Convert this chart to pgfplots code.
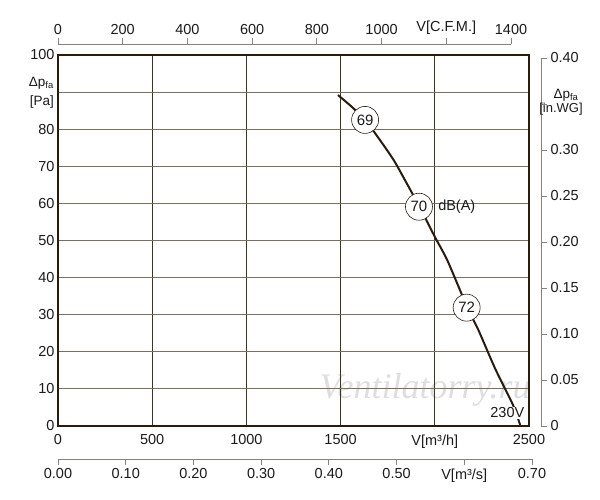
\documentclass[border=0pt]{standalone}
\usepackage{pgfplots}
\pgfplotsset{compat=1.18}
\usepackage{fontspec}
\setmainfont{Liberation Sans}
\newfontfamily\wmfont{Liberation Serif}
\definecolor{frame}{HTML}{2A1B0E}
\definecolor{vgrid}{HTML}{3E3222}
\definecolor{hgrid}{HTML}{7A7060}
\definecolor{sec}{HTML}{8A8278}
\definecolor{txt}{HTML}{1A1A1A}
\newcommand{\tf}{\fontsize{14.5bp}{17bp}\selectfont}
\begin{document}
\begin{tikzpicture}
\useasboundingbox (0,0) rectangle (600bp,500bp);
\node[inner sep=0pt, text=black!13, font=\wmfont\itshape\fontsize{36bp}{36bp}\selectfont] at (425bp,110bp) {Ventilatorry.ru};

\begin{axis}[
  at={(58bp,74bp)}, anchor=south west, scale only axis,
  width=471bp, height=371bp,
  xmin=0, xmax=2500, ymin=0, ymax=100,
  xtick={0,500,1000,1500,2000,2500},
  xticklabels={0,500,1000,1500,V[m³/h],2500},
  ytick={0,10,20,30,40,50,60,70,80,90,100},
  yticklabels={0,10,20,30,40,50,60,70,80,{},100},
  xmajorgrids, ymajorgrids,
  x grid style={vgrid, line width=0.9bp},
  y grid style={hgrid, line width=0.9bp},
  axis line style={frame, line width=2.6bp},
  major tick length=0pt,
  tick label style={font=\tf, text=txt},
  xticklabel style={yshift=-5bp},
  /pgf/number format/assume math mode=true,
  clip=false,
]
\addplot[frame, line width=2bp, smooth, tension=0.4] coordinates {
  (1486,89.2) (1560,86) (1633,82.3) (1710,77) (1784,71.5) (1850,65.5)
  (1920,59) (2000,51) (2067,44.6) (2174,31.8) (2232,25.8) (2320,15.5)
  (2413,5.9) (2455,0)
};
\node[circle, draw=frame, line width=0.6bp, fill=white, minimum size=27bp, inner sep=0pt, font=\fontsize{15bp}{17bp}\selectfont, text=txt] at (axis cs:1630,82.5) {69};
\node[circle, draw=frame, line width=0.6bp, fill=white, minimum size=27bp, inner sep=0pt, font=\fontsize{15bp}{17bp}\selectfont, text=txt] at (axis cs:1916,59.1) {70};
\node[circle, draw=frame, line width=0.6bp, fill=white, minimum size=27bp, inner sep=0pt, font=\fontsize{15bp}{17bp}\selectfont, text=txt] at (axis cs:2169,31.9) {72};
\node[anchor=west, inner sep=1bp, font=\tf, text=txt] at (axis cs:2012,59.1) {dB(A)};
\node[fill=white, inner sep=1bp, font=\tf, text=txt] at (axis cs:2385,3.6) {230V};
\end{axis}

% top CFM axis
\begin{axis}[
  at={(58bp,456bp)}, anchor=north west, scale only axis,
  width=453bp, height=10bp,
  xmin=0, xmax=1400, ymin=0, ymax=1,
  axis x line*=top, axis y line=none,
  xtick={0,200,400,600,800,1000,1200,1400},
  xticklabels={0,200,400,600,800,1000,V[C.F.M.],1400},
  tick align=outside, major tick length=6bp,
  axis line style={sec, line width=0.9bp},
  xtick style={sec, line width=0.9bp},
  tick label style={font=\tf, text=txt},
]
\end{axis}

% bottom m3/s axis
\begin{axis}[
  at={(58bp,41bp)}, anchor=south west, scale only axis,
  width=474bp, height=10bp,
  xmin=0, xmax=0.7, ymin=0, ymax=1,
  axis x line*=bottom, axis y line=none,
  xtick={0,0.1,0.2,0.3,0.4,0.5,0.6,0.7},
  xticklabels={0.00,0.10,0.20,0.30,0.40,0.50,V[m³/s],0.70},
  tick align=outside, major tick length=6bp,
  axis line style={sec, line width=0.9bp},
  xtick style={sec, line width=0.9bp},
  tick label style={font=\tf, text=txt},
]
\end{axis}

% right in.WG axis
\begin{axis}[
  at={(541bp,74bp)}, anchor=south east, scale only axis,
  width=10bp, height=368bp,
  xmin=0, xmax=1, ymin=0, ymax=0.4,
  axis y line*=right, axis x line=none,
  ytick={0,0.05,0.1,0.15,0.2,0.25,0.3,0.35,0.4},
  yticklabels={0,0.05,0.10,0.15,0.20,0.25,0.30,,0.40},
  tick align=outside, major tick length=6bp,
  axis line style={sec, line width=0.9bp},
  ytick style={sec, line width=0.9bp},
  tick label style={font=\tf, text=txt},
]
\end{axis}

\node[anchor=east, align=right, inner sep=0pt, font=\fontsize{13.5bp}{19bp}\selectfont, text=txt] at (54bp,407.5bp) {Δp\textsubscript{fa}\\{}[Pa]};
\node[inner sep=0pt, font=\fontsize{13.5bp}{13bp}\selectfont, text=txt] at (566bp,405bp) {Δp\textsubscript{fa}};
\node[inner sep=0pt, font=\fontsize{13bp}{13bp}\selectfont, text=txt] at (561bp,391bp) {[in.WG]};
\end{tikzpicture}
\end{document}
